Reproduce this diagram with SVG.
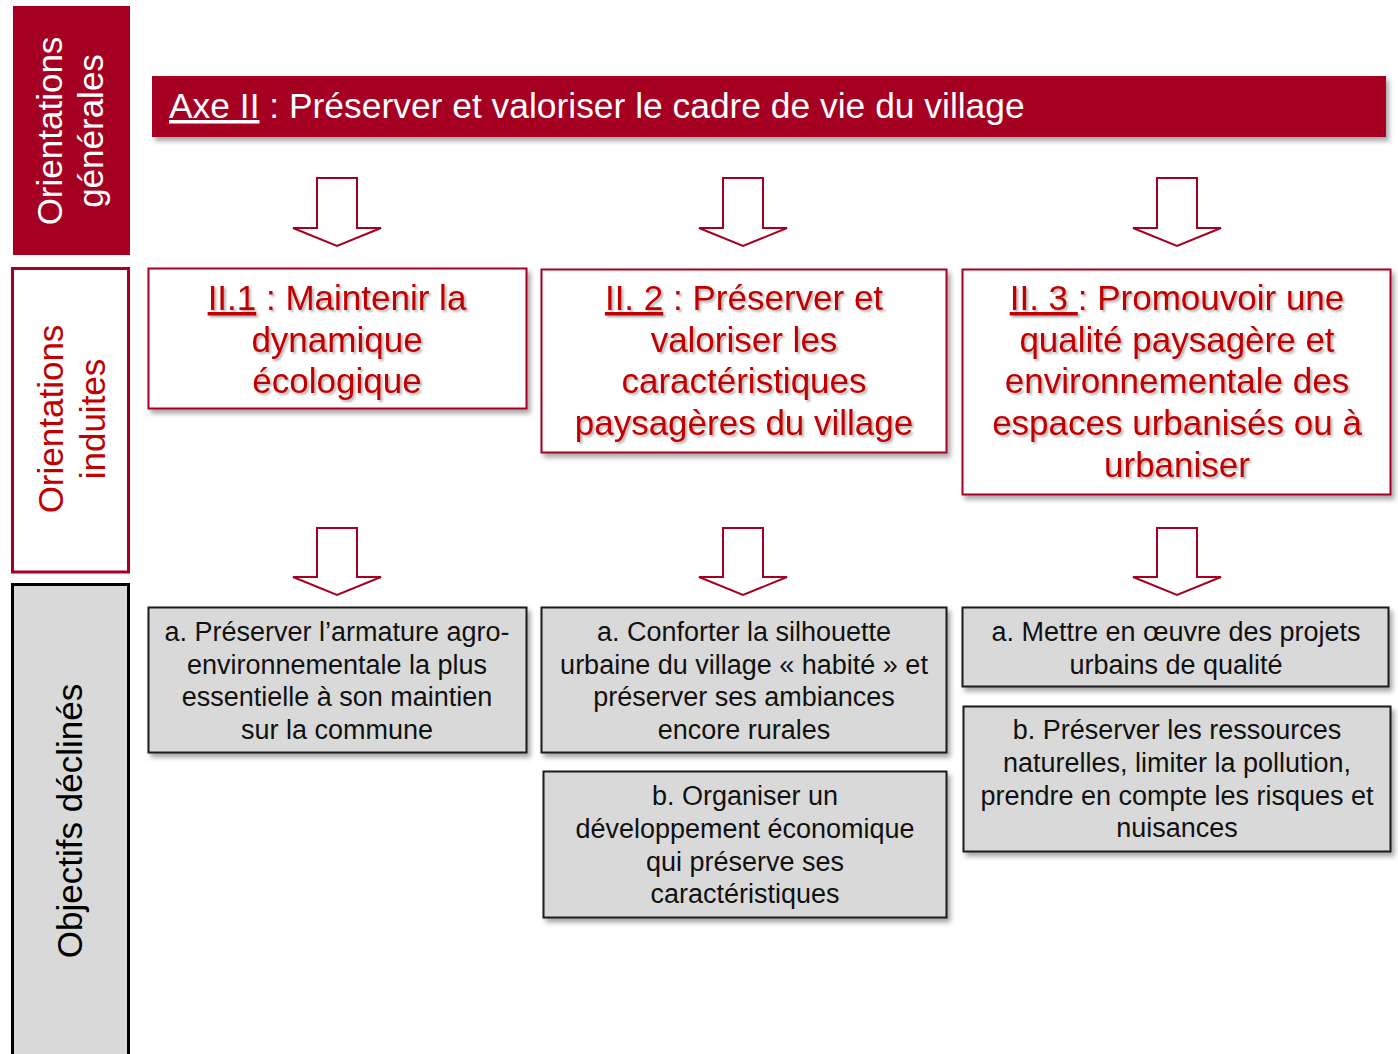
<svg xmlns="http://www.w3.org/2000/svg" width="1398" height="1054" viewBox="0 0 1398 1054">
  <defs>
    <filter id="boxShadow" x="-5%" y="-10%" width="115%" height="130%">
      <feDropShadow dx="3" dy="4" stdDeviation="2.5" flood-color="#000" flood-opacity="0.35"/>
    </filter>
    <filter id="textShadow" x="-5%" y="-20%" width="115%" height="150%">
      <feDropShadow dx="2" dy="2" stdDeviation="1" flood-color="#000" flood-opacity="0.3"/>
    </filter>
  </defs>
  <style>
    text { font-family: "Liberation Sans", Arial, sans-serif; }
    .side { font-size: 35px; text-anchor: middle; }
    .title { font-size: 35px; fill: #C00000; text-anchor: middle; filter: url(#textShadow); white-space: pre; }
    .obj { font-size: 27px; fill: #111; text-anchor: middle; }
    .u { text-decoration: underline; }
    .redBox { fill: #fff; stroke: #A50021; stroke-width: 2; filter: url(#boxShadow); }
    .grayBox { fill: #D9D9D9; stroke: #1a1a1a; stroke-width: 2; filter: url(#boxShadow); }
    .arrow { fill: #fff; stroke: #A50021; stroke-width: 2; stroke-linejoin: miter; }
  </style>

  <g id="side-generales">
    <rect x="13" y="6" width="117" height="249" fill="#A50021"/>
    <text class="side" fill="#fff" transform="translate(62,131) rotate(-90)">Orientations</text>
    <text class="side" fill="#fff" transform="translate(103,131) rotate(-90)">générales</text>
  </g>
  <g id="side-induites">
    <rect x="12.5" y="268.5" width="116" height="303.5" fill="#fff" stroke="#A50021" stroke-width="3"/>
    <text class="side" fill="#C00000" transform="translate(63,419) rotate(-90)">Orientations</text>
    <text class="side" fill="#C00000" transform="translate(105,419) rotate(-90)">induites</text>
  </g>
  <g id="side-objectifs">
    <rect x="12.5" y="584.5" width="116" height="480" fill="#D9D9D9" stroke="#000" stroke-width="3"/>
    <text class="side" fill="#000" transform="translate(82,821) rotate(-90)">Objectifs déclinés</text>
  </g>

  <g id="axe">
    <rect x="152" y="76" width="1234" height="61" fill="#A50021" filter="url(#boxShadow)"/>
    <text x="169" y="118" font-size="35.4" fill="#fff" style="white-space:pre"><tspan class="u">Axe II</tspan> : Préserver et valoriser le cadre de vie du village</text>
  </g>

  <g id="connectors">
    <path class="arrow" d="M317,178 H357 V228 H381 L337,246 L293,228 H317 Z"/>
    <path class="arrow" d="M723,178 H763 V228 H787 L743,246 L699,228 H723 Z"/>
    <path class="arrow" d="M1157,178 H1197 V228 H1221 L1177,246 L1133,228 H1157 Z"/>
    <path class="arrow" d="M317,528 H357 V577 H381 L337,595 L293,577 H317 Z"/>
    <path class="arrow" d="M723,528 H763 V577 H787 L743,595 L699,577 H723 Z"/>
    <path class="arrow" d="M1157,528 H1197 V577 H1221 L1177,595 L1133,577 H1157 Z"/>
  </g>

  <g id="II1">
    <rect class="redBox" x="148.5" y="268.5" width="378" height="140"/>
    <text class="title" x="337" y="310"><tspan class="u">II.1</tspan> : Maintenir la</text>
    <text class="title" x="337" y="351.7">dynamique</text>
    <text class="title" x="337" y="393.4">écologique</text>
  </g>
  <g id="II2">
    <rect class="redBox" x="541.5" y="269.5" width="405" height="183"/>
    <text class="title" x="744" y="310"><tspan class="u">II. 2</tspan> : Préserver et</text>
    <text class="title" x="744" y="351.7">valoriser les</text>
    <text class="title" x="744" y="393.4">caractéristiques</text>
    <text class="title" x="744" y="435.1">paysagères du village</text>
  </g>
  <g id="II3">
    <rect class="redBox" x="962.5" y="269.5" width="428" height="225"/>
    <text class="title" x="1177" y="310"><tspan class="u">II. 3 </tspan>: Promouvoir une</text>
    <text class="title" x="1177" y="351.7">qualité paysagère et</text>
    <text class="title" x="1177" y="393.4">environnementale des</text>
    <text class="title" x="1177" y="435.1">espaces urbanisés ou à</text>
    <text class="title" x="1177" y="476.8">urbaniser</text>
  </g>

  <g id="obj1a">
    <rect class="grayBox" x="148.5" y="607.5" width="378" height="145"/>
    <text class="obj" x="337" y="641">a. Préserver l’armature agro-</text>
    <text class="obj" x="337" y="673.7">environnementale la plus</text>
    <text class="obj" x="337" y="706.4">essentielle à son maintien</text>
    <text class="obj" x="337" y="739.1">sur la commune</text>
  </g>
  <g id="obj2a">
    <rect class="grayBox" x="541.5" y="607.5" width="405" height="145"/>
    <text class="obj" x="744" y="641">a. Conforter la silhouette</text>
    <text class="obj" x="744" y="673.7">urbaine du village « habité » et</text>
    <text class="obj" x="744" y="706.4">préserver ses ambiances</text>
    <text class="obj" x="744" y="739.1">encore rurales</text>
  </g>
  <g id="obj2b">
    <rect class="grayBox" x="543.5" y="771.5" width="403" height="146"/>
    <text class="obj" x="745" y="805.3">b. Organiser un</text>
    <text class="obj" x="745" y="838">développement économique</text>
    <text class="obj" x="745" y="870.7">qui préserve ses</text>
    <text class="obj" x="745" y="903.4">caractéristiques</text>
  </g>
  <g id="obj3a">
    <rect class="grayBox" x="962.5" y="607.5" width="426" height="79"/>
    <text class="obj" x="1176" y="641">a. Mettre en œuvre des projets</text>
    <text class="obj" x="1176" y="673.7">urbains de qualité</text>
  </g>
  <g id="obj3b">
    <rect class="grayBox" x="963.5" y="706.5" width="427" height="145"/>
    <text class="obj" x="1177" y="739.3">b. Préserver les ressources</text>
    <text class="obj" x="1177" y="772">naturelles, limiter la pollution,</text>
    <text class="obj" x="1177" y="804.7">prendre en compte les risques et</text>
    <text class="obj" x="1177" y="837.4">nuisances</text>
  </g>
</svg>
